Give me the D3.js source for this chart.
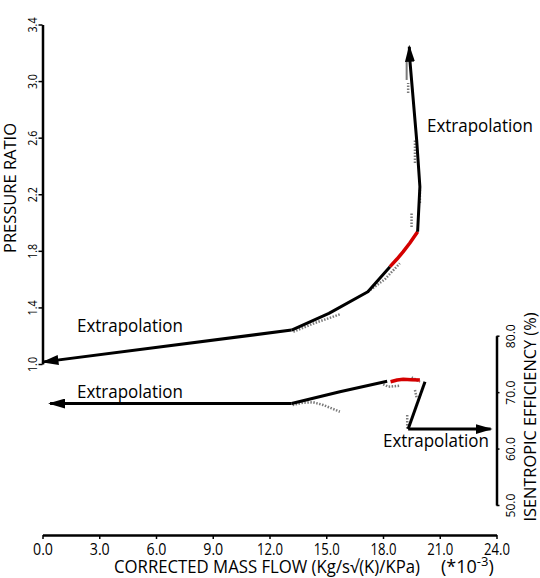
<!DOCTYPE html>
<html><head><meta charset="utf-8">
<script src="https://cdn.jsdelivr.net/npm/d3@7"></script>
<style>
html,body{margin:0;padding:0;background:#fff;}
text{font-family:"Liberation Sans Narrow","Open Sans","DejaVu Sans Condensed",sans-serif;font-weight:400;fill:#000;}
</style></head>
<body><svg id="c" width="540" height="578"></svg>
<script>
// ---- data (mass flow in units of 1e-3) ----
const xTicks = [0, 3, 6, 9, 12, 15, 18, 21, 24];
const prTicks = [1.0, 1.4, 1.8, 2.2, 2.6, 3.0, 3.4];
const effTicks = [50, 60, 70, 80];

// pressure ratio fitted curve
const prExtrapLow = [[13.17, 1.240], [0.05, 1.015]];
const prFitLow = [[13.17, 1.240], [15.14, 1.358], [17.2, 1.511], [18.37, 1.688]];
const prFitRed = [[18.37, 1.688], [18.74, 1.742], [19.07, 1.794], [19.42, 1.855], [19.83, 1.935]];
const prExtrapHigh = [[19.83, 1.935], [19.95, 2.253], [19.78, 2.583], [19.42, 3.149], [19.39, 3.243]];
// pressure ratio measured data
const prData = [
  [[13.26, 1.228], [14.40, 1.290], [15.72, 1.351]],
  [[17.20, 1.511], [18.10, 1.599], [18.89, 1.712]],
  [[19.51, 1.968], [19.51, 2.067]],
  [[19.95, 2.138], [19.95, 2.230]],
  [[19.69, 2.421], [19.69, 2.583]],
  [[19.33, 2.916], [19.33, 2.987]]
];
const prDataSolid = [[19.25, 3.008], [19.25, 3.137]];

// isentropic efficiency fitted curve
const effExtrapLow = [[13.17, 67.98], [0.40, 67.98]];
const effFitLow = [[13.17, 67.98], [15.72, 70.08], [18.22, 71.92]];
const effFitRed = [[18.40, 71.85], [18.75, 72.15], [19.07, 72.27], [19.5, 72.2], [19.95, 72.15]];
const effFitHigh = [[20.22, 71.85], [19.33, 63.45]];
const effExtrapHigh = [[19.33, 63.45], [23.69, 63.45]];
// efficiency measured data
const effData = [
  [[13.22, 67.72], [13.78, 68.13], [14.31, 68.20], [14.84, 67.72], [15.72, 66.53]],
  [[18.01, 71.39], [18.28, 70.96], [18.89, 71.14]],
  [[19.51, 72.63], [19.78, 72.15], [19.95, 71.80]],
  [[19.69, 70.38], [19.78, 68.96]],
  [[19.28, 65.95], [19.28, 63.29]]
];

// ---- drawing ----
const svg = d3.select("#c");
const x = d3.scaleLinear().domain([0, 24]).range([42.5, 496.5]);
const yP = d3.scaleLinear().domain([1.0, 3.4]).range([364, 24.5]);
const yE = d3.scaleLinear().domain([50, 80]).range([505, 335.7]);

const defs = svg.append("defs");
defs.append("marker").attr("id", "arr")
  .attr("viewBox", "0 0 17 10").attr("refX", 15).attr("refY", 5)
  .attr("markerWidth", 17).attr("markerHeight", 10)
  .attr("markerUnits", "userSpaceOnUse").attr("orient", "auto")
  .append("path").attr("d", "M0,0L17,5L0,10Z").attr("fill", "#000");

function styleAxis(g) {
  g.attr("font-family", null).attr("font-size", null);
  g.select(".domain").attr("stroke", "#000").attr("stroke-width", 2.5);
  g.selectAll(".tick line").attr("stroke", "#000").attr("stroke-width", 1.5);
  g.selectAll("text").attr("fill", "#000");
}

// left axis
const gL = svg.append("g").attr("transform", `translate(42.5,0)`)
  .call(d3.axisLeft(yP).tickValues(prTicks).tickFormat(d3.format(".1f")).tickSize(4).tickSizeOuter(0));
styleAxis(gL);
gL.selectAll("text").attr("x", null).attr("dy", null).attr("y", null)
  .attr("transform", "translate(-6,0) rotate(-90)").attr("text-anchor", "middle")
  .style("font-size", "12.5px").attr("textLength", 15).attr("lengthAdjust", "spacingAndGlyphs");

// bottom axis
const gB = svg.append("g").attr("transform", `translate(0,535)`)
  .call(d3.axisBottom(x).tickValues(xTicks).tickFormat(d3.format(".1f")).tickSize(4).tickSizeOuter(0));
styleAxis(gB);
gB.selectAll("text").attr("y", 19.5).attr("dy", null).style("font-size", "15.5px")
  .attr("textLength", d => d >= 10 ? 26 : 20).attr("lengthAdjust", "spacingAndGlyphs");

// right efficiency axis
const gR = svg.append("g").attr("transform", `translate(496.5,0)`)
  .call(d3.axisRight(yE).tickValues(effTicks).tickFormat(d3.format(".1f")).tickSize(3).tickSizeOuter(0));
styleAxis(gR);
gR.selectAll("text").attr("x", null).attr("dy", null).attr("y", null)
  .attr("transform", "translate(18.5,0) rotate(-90)").attr("text-anchor", "middle")
  .style("font-size", "12.5px").attr("textLength", 24).attr("lengthAdjust", "spacingAndGlyphs");

// axis titles
svg.append("text").attr("transform", "translate(15.5,188) rotate(-90)")
  .attr("text-anchor", "middle").style("font-size", "16.5px")
  .attr("textLength", 130).attr("lengthAdjust", "spacingAndGlyphs").text("PRESSURE RATIO");
svg.append("text").attr("transform", "translate(535.5,417) rotate(-90)")
  .attr("text-anchor", "middle").style("font-size", "16.5px")
  .attr("textLength", 209).attr("lengthAdjust", "spacingAndGlyphs").text("ISENTROPIC EFFICIENCY (%)");
svg.append("text").attr("x", 114).attr("y", 573).style("font-size", "18px")
  .attr("textLength", 306).attr("lengthAdjust", "spacingAndGlyphs")
  .text("CORRECTED MASS FLOW (Kg/s\u221A(K)/KPa)");
const sc = svg.append("text").attr("x", 441).attr("y", 573).style("font-size", "18px");
sc.append("tspan").text("(*10");
sc.append("tspan").attr("dy", -7).style("font-size", "13px").text("-3");
sc.append("tspan").attr("dy", 7).text(")");

// lines
const lp = d3.line().x(d => x(d[0])).y(d => yP(d[1]));
const le = d3.line().x(d => x(d[0])).y(d => yE(d[1]));

function grey(gen, pts) {
  svg.append("path").attr("d", gen(pts)).attr("fill", "none")
    .attr("stroke", "#7a7a7a").attr("stroke-width", 2.5).attr("stroke-dasharray", "1.5,1.5");
}
prData.forEach(s => grey(lp, s));
effData.forEach(s => grey(le, s));
svg.append("path").attr("d", lp(prDataSolid)).attr("fill", "none")
  .attr("stroke", "#7a7a7a").attr("stroke-width", 2);

function fit(gen, pts, color, arrow, w) {
  const p = svg.append("path").attr("d", gen(pts)).attr("fill", "none")
    .attr("stroke", color).attr("stroke-width", w || 3).attr("stroke-linejoin", "round");
  if (arrow) p.attr("marker-end", "url(#arr)");
}
fit(lp, prExtrapLow, "#000", true);
fit(lp, prFitLow, "#000", false);
fit(lp, prFitRed, "#d40000", false, 3.5);
fit(lp, prExtrapHigh, "#000", true);
fit(le, effExtrapLow, "#000", true);
fit(le, effFitLow, "#000", false);
fit(le, effFitRed, "#d40000", false, 3.5);
fit(le, effFitHigh, "#000", false);
fit(le, effExtrapHigh, "#000", true);

// annotations
function note(xp, yp) {
  svg.append("text").attr("x", xp).attr("y", yp).style("font-size", "19px")
    .attr("textLength", 106).attr("lengthAdjust", "spacingAndGlyphs").text("Extrapolation");
}
note(427, 132);
note(77, 332);
note(77, 398);
note(383, 447);
</script></body></html>
